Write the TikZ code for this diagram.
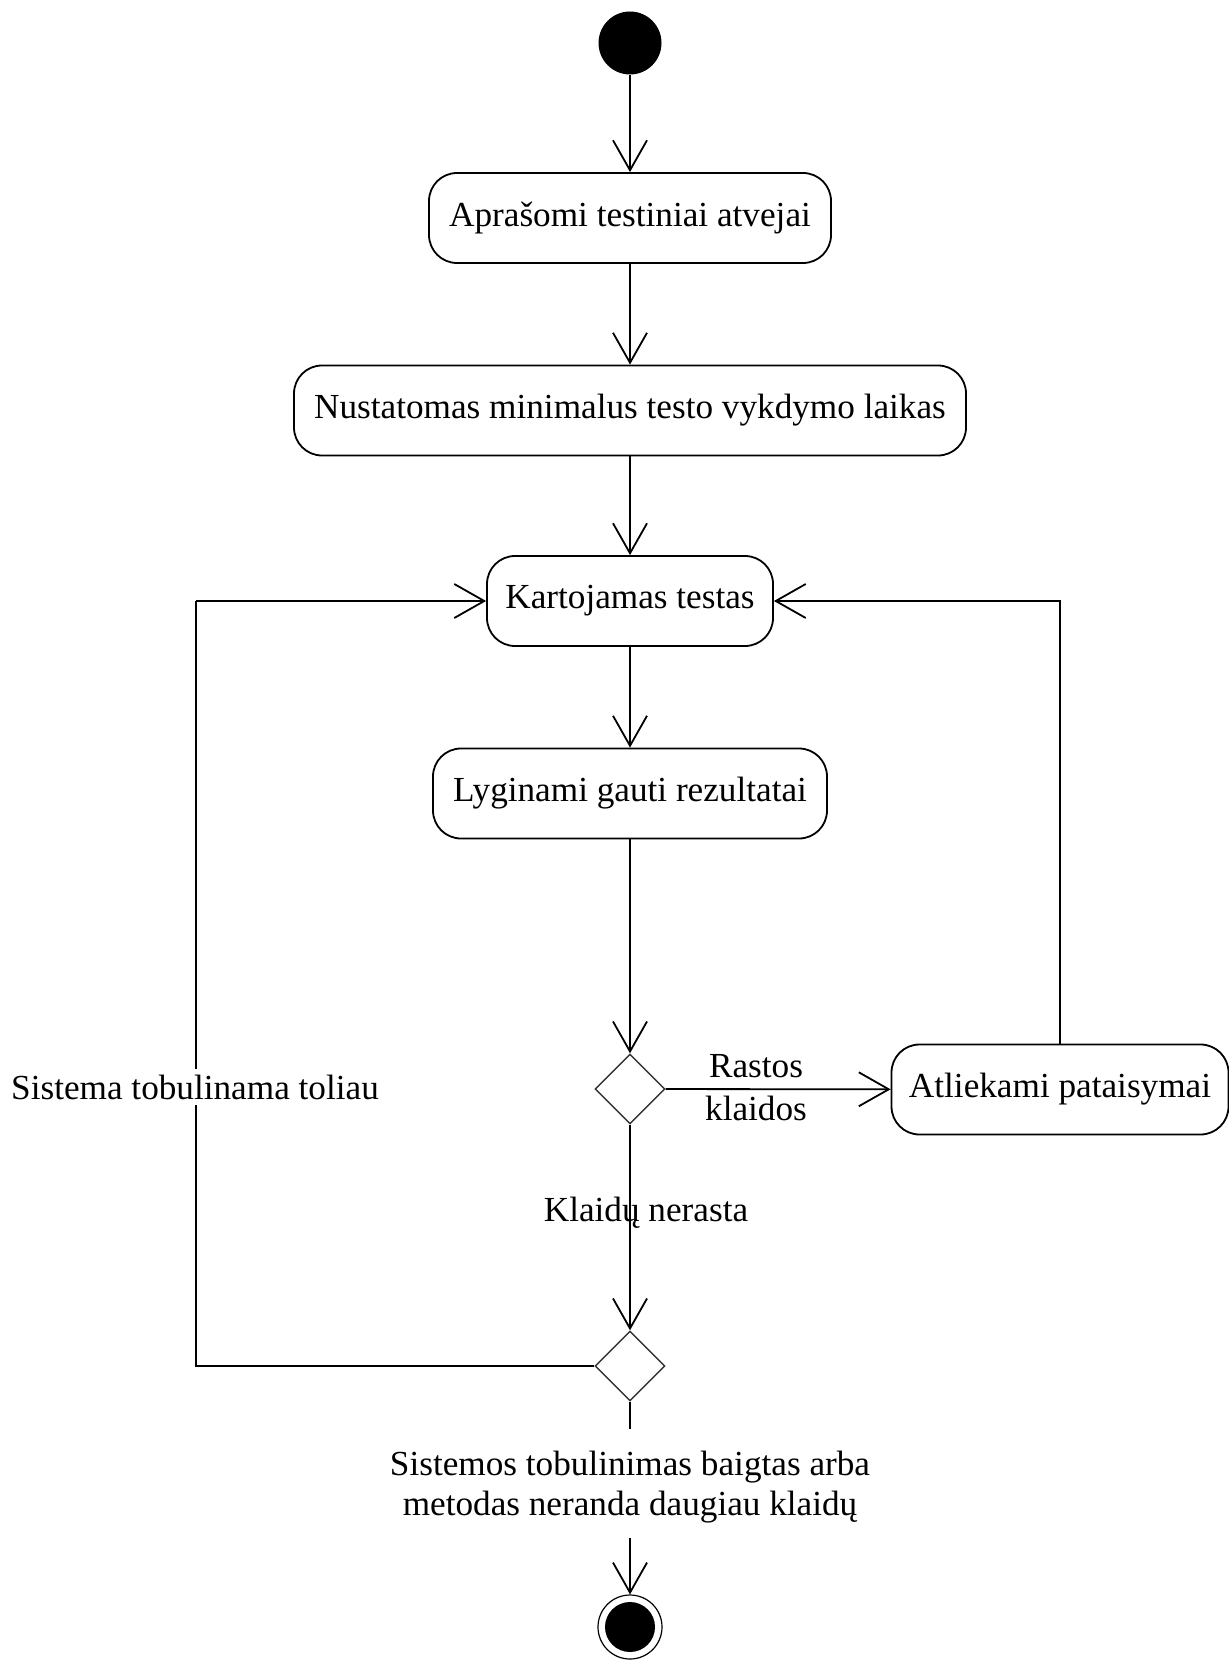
\documentclass[tikz,border=0pt]{standalone}
\usepackage{fontspec}
\setmainfont{Liberation Serif}
\usetikzlibrary{arrows.meta,shapes.geometric}
\begin{document}
\begin{tikzpicture}[x=0.5pt,y=-0.5pt,
  font=\fontsize{17.6}{21.5}\selectfont,
  line width=0.9pt,
  act/.style={draw, rounded corners=14pt, minimum height=45pt, inner sep=0pt, align=center},
  dec/.style={draw, diamond, aspect=1, minimum width=35pt, minimum height=35pt, inner sep=0pt, line width=0.7pt, draw=black!80},
  flow/.style={-{Straight Barb[length=15pt,width=17pt]}},
  lbl/.style={align=center, inner sep=0pt}]
\useasboundingbox (0,0) rectangle (1229,1663);

% initial and final states
\node (start) [circle, fill=black, minimum size=31.5pt, inner sep=0pt] at (630,43) {};
\node (stop) [circle, draw, line width=0.6pt, minimum size=32pt, inner sep=0pt] at (630,1627) {};
\fill (stop.center) circle (12.5pt);

% actions
\node (a1) [act, minimum width=201pt] at (630,218) {Aprašomi testiniai atvejai};
\node (a2) [act, minimum width=336pt] at (630,410.5) {Nustatomas minimalus testo vykdymo laikas};
\node (a3) [act, minimum width=143pt] at (630,601) {Kartojamas testas};
\node (a4) [act, minimum width=197pt] at (630,793.5) {Lyginami gauti rezultatai};
\node (a5) [act, minimum width=168.5pt] at (1060,1089.5) {Atliekami pataisymai};

% decisions
\node (d1) [dec] at (630,1089) {};
\node (d2) [dec] at (630,1366) {};

% helper points for the loops and the broken final flow
\coordinate (lc) at (196,601);
\coordinate (c1) at (630,1429);
\coordinate (c2) at (630,1538);

% flows
\draw[flow] (start) -- (a1);
\draw[flow] (a1) -- (a2);
\draw[flow] (a2) -- (a3);
\draw[flow] (a3) -- (a4);
\draw[flow] (a4) -- (d1);
\draw[flow] (d1) -- (a5);
\draw[flow] (a5.north) |- (a3.east);
\draw[flow] (d1) -- (d2);
\draw (d2.west) -| (lc);
\draw[flow] (lc) -- (a3.west);
\draw (d2.south) -- (c1);
\draw[flow] (c2) -- (stop);

% guard labels (the loop label masks the line behind it)
\node (g1) [lbl] at (756,1088) {Rastos\\klaidos};
\node (g2) [lbl] at (646,1213) {Klaidų nerasta};
\node (g3) [lbl, fill=white, inner xsep=1pt, inner ysep=3pt] at (195,1087) {Sistema tobulinama toliau};
\node (g4) [lbl, font=\fontsize{17.6}{20}\selectfont] at (630,1487) {Sistemos tobulinimas baigtas arba\\metodas neranda daugiau klaidų};
\end{tikzpicture}
\end{document}
